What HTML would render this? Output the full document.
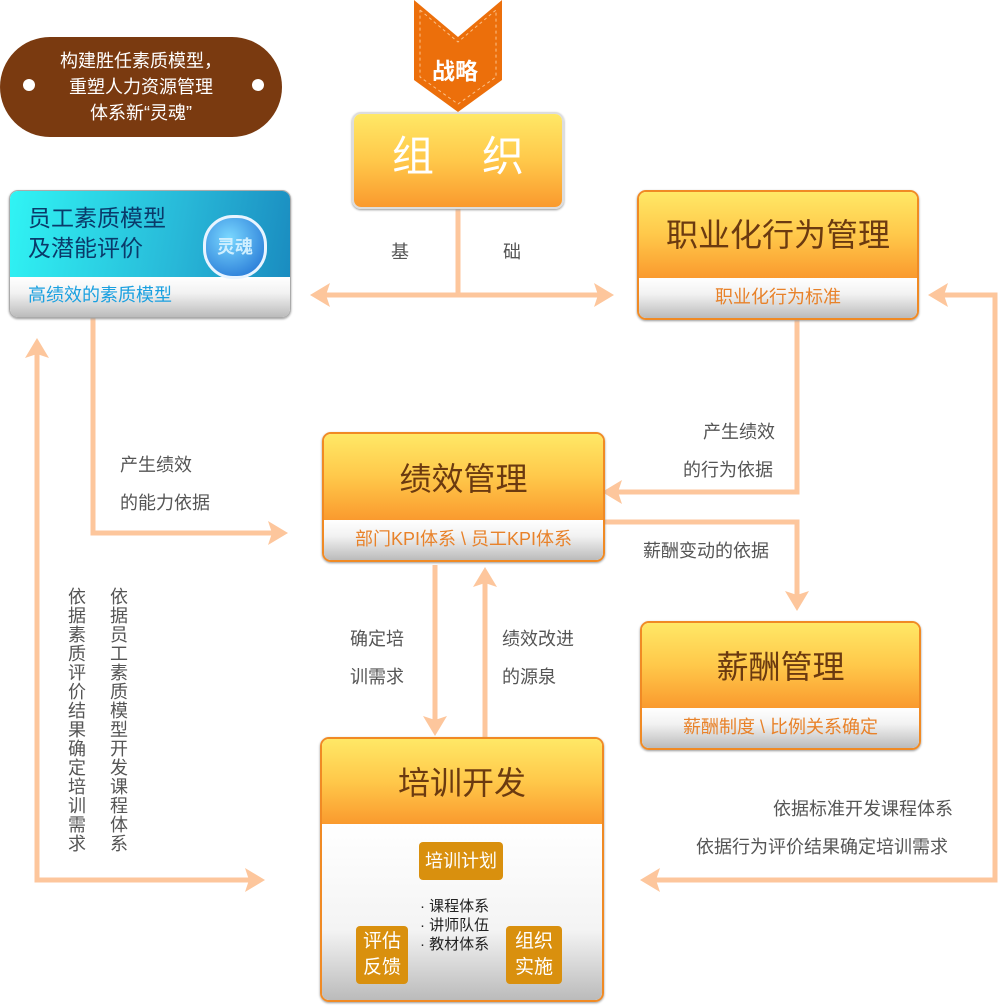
<!DOCTYPE html>
<html><head><meta charset="utf-8"><style>
body{margin:0;width:1000px;height:1008px;background:#fff;position:relative;overflow:hidden;font-family:"Liberation Sans","Noto Sans CJK SC",sans-serif}
.a{position:absolute}
.box{position:absolute;border-radius:9px;border:2px solid #f08a24;overflow:hidden;box-shadow:0 1px 2px #999}
.top{position:absolute;left:0;right:0;top:0;background:linear-gradient(#ffe866,#ffc84a 50%,#fa9a2e);color:#6b3a10;font-size:32px;text-align:center}
.band{position:absolute;left:0;right:0;bottom:0;background:linear-gradient(#fff,#f2f2f2 40%,#bbb);color:#e8822a;font-size:18px;text-align:center}
.lbl{position:absolute;color:#555;font-size:18px;line-height:38px;white-space:nowrap}
.sm{position:absolute;background:#d9900e;color:#fff;border-radius:4px;text-align:center;font-size:18px}
</style></head><body>
<div class="a" style="left:0;top:37px;width:282px;height:100px;border-radius:50px;background:#7a3a10;color:#fff;font-size:18px;text-align:center;line-height:26px;padding-top:11px;box-sizing:border-box">构建胜任素质模型，<br>重塑人力资源管理<br>体系新“灵魂”</div>
<div class="a" style="left:23px;top:79px;width:12px;height:12px;border-radius:6px;background:#fff"></div>
<div class="a" style="left:252px;top:79px;width:12px;height:12px;border-radius:6px;background:#fff"></div>

<svg class="a" style="left:0;top:0" width="1000" height="1008">
<polygon points="414,0 458,37 502,0 502,80 458,112 414,80" fill="#ec6f0b"/>
<polyline points="420,10 458,42 496,10 496,77 458,104 420,77 420,10" fill="none" stroke="#fbc28a" stroke-dasharray="3,3"/>
<g stroke="#fdc69c" stroke-width="5" fill="none">
<line x1="458" y1="205" x2="458" y2="295"/>
<line x1="320" y1="295" x2="605" y2="295"/>
<polyline points="93,318 93,533 280,533"/>
<polyline points="797,318 797,492 610,492"/>
<polyline points="935,295 995,295 995,880 648,880"/>
<polyline points="37,345 37,880 258,880"/>
<polyline points="603,522 797,522 797,603"/>
<line x1="435" y1="565" x2="435" y2="728"/>
<line x1="485" y1="740" x2="485" y2="575"/>
</g>
<g fill="#fdc69c">
<polygon points="310,295 330,283 326,295 330,307"/>
<polygon points="614,295 594,283 598,295 594,307"/>
<polygon points="288,533 268,521 272,533 268,545"/>
<polygon points="602,492 622,480 618,492 622,504"/>
<polygon points="928,295 948,283 944,295 948,307"/>
<polygon points="640,880 660,868 656,880 660,892"/>
<polygon points="37,338 25,358 37,354 49,358"/>
<polygon points="265,880 245,868 249,880 245,892"/>
<polygon points="797,611 785,591 797,595 809,591"/>
<polygon points="435,736 423,716 435,720 447,716"/>
<polygon points="485,567 473,587 485,583 497,587"/>
</g>
<g stroke="#7a3a10" stroke-width="2" fill="none">
<path d="M386,915 Q390,890 410,876"/><path d="M536,915 Q532,890 512,876"/><line x1="493" y1="970" x2="428" y2="970"/>
</g>
<g fill="#7a3a10"><polygon points="412,874 402,876 408,882"/><polygon points="508,874 518,876 512,882"/><polygon points="424,970 432,966 432,974"/></g>
</svg>
<div class="a" style="left:432px;top:52px;color:#fff;font-size:23px;font-weight:bold">战略</div>

<div class="box" style="left:352px;top:112px;width:208px;height:93px;border-color:#ddd"><div class="top" style="bottom:0;color:#fff;font-size:42px;line-height:93px"></div></div>
<div class="a" style="left:392px;top:132px;color:#fff;font-size:42px;line-height:50px">组</div>
<div class="a" style="left:482px;top:132px;color:#fff;font-size:42px;line-height:50px">织</div>

<div class="box" style="left:9px;top:190px;width:280px;height:126px;border:1px solid #aaa">
<div class="top" style="height:86px;background:linear-gradient(100deg,#30f4f4,#28b8d8 60%,#1a8cc0);color:#0a3a6a;font-size:23px;text-align:left;padding:12px 0 0 18px;line-height:30px;box-sizing:border-box">员工素质模型<br>及潜能评价</div>
<div class="band" style="height:40px;line-height:36px;text-align:left;padding-left:18px;color:#1aa0e0">高绩效的素质模型</div></div>
<div class="a" style="left:203px;top:215px;width:58px;height:58px;border-radius:30px;background:radial-gradient(circle at 40% 35%,#7ad8ff,#1a6ad0);border:3px solid #e8f4ff;color:#cfefff;font-size:18px;line-height:58px;text-align:center;font-weight:bold">灵魂</div>

<div class="box" style="left:637px;top:190px;width:278px;height:126px"><div class="top" style="height:86px;line-height:86px">职业化行为管理</div><div class="band" style="height:40px;line-height:38px">职业化行为标准</div></div>
<div class="box" style="left:322px;top:432px;width:279px;height:126px"><div class="top" style="height:86px;line-height:90px">绩效管理</div><div class="band" style="height:40px;line-height:38px">部门KPI体系 \ 员工KPI体系</div></div>
<div class="box" style="left:640px;top:621px;width:277px;height:125px"><div class="top" style="height:85px;line-height:88px">薪酬管理</div><div class="band" style="height:40px;line-height:38px">薪酬制度 \ 比例关系确定</div></div>
<div class="box" style="left:320px;top:737px;width:280px;height:261px"><div class="top" style="height:85px;line-height:88px">培训开发</div><div class="band" style="height:176px;background:linear-gradient(#fff,#f4f4f4 60%,#bbb)"></div></div>
<div class="sm" style="left:419px;top:842px;width:84px;height:38px;line-height:38px">培训计划</div>
<div class="sm" style="left:356px;top:926px;width:52px;height:58px;line-height:26px;padding-top:3px;box-sizing:border-box;font-size:19px">评估<br>反馈</div>
<div class="sm" style="left:506px;top:926px;width:56px;height:58px;line-height:26px;padding-top:3px;box-sizing:border-box;font-size:19px">组织<br>实施</div>
<div class="a" style="left:420px;top:897px;font-size:15px;line-height:19px;color:#222">· 课程体系<br>· 讲师队伍<br>· 教材体系</div>

<div class="lbl" style="left:391px;top:233px">基</div>
<div class="lbl" style="left:503px;top:233px">础</div>
<div class="lbl" style="left:120px;top:446px">产生绩效<br>的能力依据</div>
<div class="lbl" style="left:703px;top:413px">产生绩效</div>
<div class="lbl" style="left:683px;top:451px">的行为依据</div>
<div class="lbl" style="left:643px;top:532px">薪酬变动的依据</div>
<div class="lbl" style="left:350px;top:620px">确定培<br>训需求</div>
<div class="lbl" style="left:502px;top:620px">绩效改进<br>的源泉</div>
<div class="lbl" style="left:773px;top:790px">依据标准开发课程体系</div>
<div class="lbl" style="left:696px;top:828px">依据行为评价结果确定培训需求</div>
<div class="lbl" style="left:65px;top:587px;writing-mode:vertical-rl;line-height:22px;font-size:18px;letter-spacing:1px">依据素质评价结果确定培训需求</div>
<div class="lbl" style="left:107px;top:587px;writing-mode:vertical-rl;line-height:22px;font-size:18px;letter-spacing:1px">依据员工素质模型开发课程体系</div>
</body></html>
